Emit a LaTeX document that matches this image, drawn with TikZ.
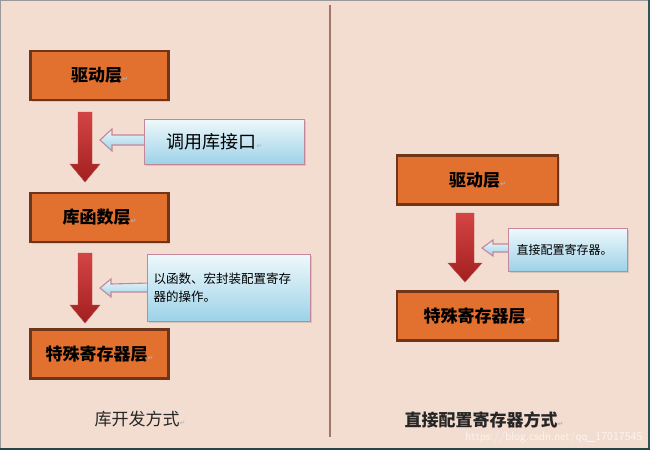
\documentclass[tikz,border=0pt]{standalone}
\usepackage{fontspec}
\newfontfamily\cjk{Noto Sans CJK SC}
\newfontfamily\symf{DejaVu Sans}
\usetikzlibrary{calc,shadows}
\definecolor{bg}{HTML}{F3DCD0}
\definecolor{boxor}{HTML}{E2702F}
\definecolor{boxbrd}{HTML}{6E3519}
\definecolor{redlt}{HTML}{D54444}
\definecolor{reddk}{HTML}{A21F1F}
\definecolor{calltop}{HTML}{EEF8FB}
\definecolor{callbot}{HTML}{9CD2E8}
\definecolor{callbrd}{HTML}{C4879A}
\definecolor{divider}{HTML}{A27567}
\definecolor{framedk}{HTML}{2F5656}
\newcommand{\pmark}{{\symf\color{gray!60}\fontsize{7}{8}\selectfont ↵}}
\begin{document}
\begin{tikzpicture}[x=1pt,y=-1pt,
  layerbox/.style={draw=boxbrd, line width=2.4pt, fill=boxor, minimum height=49pt,
    inner sep=0pt, font=\cjk\bfseries\fontsize{17}{20}\selectfont,
    drop shadow={shadow xshift=1.5pt, shadow yshift=-1.5pt, opacity=0.25}},
  callbox/.style={draw=callbrd, line width=1.3pt, top color=calltop, bottom color=callbot,
    inner ysep=0pt, align=left, anchor=center,
    drop shadow={shadow xshift=1.5pt, shadow yshift=-1.5pt, opacity=0.25}},
  callarrow/.style={draw=callbrd, line width=1.1pt, top color=calltop, bottom color=callbot, line join=miter},
  redarrow/.style={top color=redlt, bottom color=reddk, draw=reddk!80, line width=0.4pt},
  caption/.style={font=\cjk\fontsize{17}{20}\selectfont, text=black!85}
]
\fill[bg] (0,0) rectangle (650,450);
\useasboundingbox (0,0) rectangle (650,450);
% frame
\draw[gray!80, line width=1pt] (0.5,450) -- (0.5,0.5) -- (650,0.5);
\draw[framedk, line width=1.5pt] (649,0) -- (649,450);
\draw[framedk!80!black, line width=2.5pt] (0,448.8) -- (650,448.8);
% divider
\draw[divider, line width=1.5pt] (330,5) -- (330,437);

% ---------- left column ----------
\node[layerbox, minimum width=138pt] (L1) at (99.5,75.5) {驱动层\pmark};
\node[layerbox, minimum width=138pt] (L2) at (99.5,217.5) {库函数层\pmark};
\node[layerbox, minimum width=138pt] (L3) at (99.5,354) {特殊寄存器层\pmark};

% red arrows
\path[redarrow] (78,112) -- (92,112) -- (92,164) -- (100,164) -- (85,182) -- (70,164) -- (78,164) -- cycle;
\path[redarrow] (78,253) -- (92,253) -- (92,305) -- (100,305) -- (85,323) -- (70,305) -- (78,305) -- cycle;
\coordinate (t1) at (100,140);
\coordinate (t2) at (100,288);

% callout arrows
\path[callarrow] (t1) -- ++(12,-11) -- ++(0,6) -- (148,135) -- (148,145) -- (112,145) -- (112,151) -- cycle;
\path[callarrow] (t2) -- ++(11,-9) -- ++(0,5) -- (150,283) -- (150,292) -- (111,292) -- (111,297) -- cycle;

\node[callbox, minimum width=160pt, minimum height=45pt, inner xsep=22pt, text width=116pt,
  font=\cjk\fontsize{18}{20}\selectfont] (C1) at (224.5,142) {调用库接口\pmark};
\node[callbox, minimum width=163pt, minimum height=67pt, inner xsep=6pt, text width=151pt,
  font=\cjk\fontsize{12.5}{18}\selectfont] (C2) at (229,288) {以函数、宏封装配置寄存\\器的操作。};

\node[caption] (cap1) at (140,419) {库开发方式\pmark};

% ---------- right column ----------
\node[layerbox, minimum width=161pt] (R1) at (477.5,180) {驱动层\pmark};
\node[layerbox, minimum width=161pt] (R2) at (477.5,316) {特殊寄存器层\pmark};

\path[redarrow] (456,213) -- (474,213) -- (474,263) -- (482,263) -- (465,282) -- (448,263) -- (456,263) -- cycle;
\coordinate (t3) at (482,248);
\path[callarrow] (t3) -- ++(11,-8) -- ++(0,4) -- (510,244) -- (510,252) -- (493,252) -- (493,256) -- cycle;
\node[callbox, minimum width=119pt, minimum height=43pt, inner xsep=8pt, text width=103pt,
  font=\cjk\fontsize{12}{14}\selectfont] (C3) at (568,250) {直接配置寄存器。};

\node[caption, font=\cjk\bfseries\fontsize{17}{20}\selectfont] (cap2) at (484,420) {直接配置寄存器方式\pmark};

% watermark
\node[font=\fontfamily{}\sffamily\fontsize{12}{14}\selectfont, text=white, opacity=0.7, anchor=east] (wm) at (646,437) {https://blog.csdn.net/qq\_17017545};
\end{tikzpicture}
\end{document}
